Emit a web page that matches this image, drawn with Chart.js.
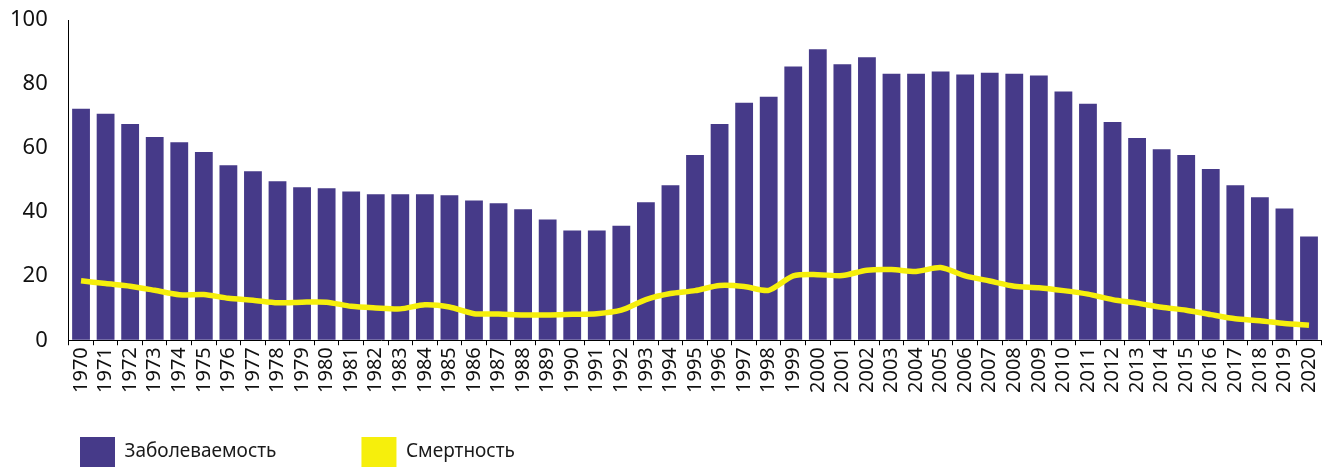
<!DOCTYPE html>
<html>
<head>
<meta charset="utf-8">
<script src="https://cdn.jsdelivr.net/npm/chart.js@4/dist/chart.umd.min.js"></script>
<style>
    html, body { margin: 0; padding: 0; background: #fff; overflow: hidden; }
    #wrap { width: 1335px; height: 467px; }
</style>
</head>
<body>
<div id="wrap">
    <canvas id="myChart" width="1335" height="467"></canvas>
</div>
<script>
const years = ["1970","1971","1972","1973","1974","1975","1976","1977","1978","1979",
    "1980","1981","1982","1983","1984","1985","1986","1987","1988","1989",
    "1990","1991","1992","1993","1994","1995","1996","1997","1998","1999",
    "2000","2001","2002","2003","2004","2005","2006","2007","2008","2009",
    "2010","2011","2012","2013","2014","2015","2016","2017","2018","2019","2020"];

const incidence = [72.3,70.8,67.6,63.5,61.9,58.8,54.7,52.8,49.7,47.8,
    47.5,46.5,45.6,45.6,45.6,45.3,43.7,42.8,40.9,37.7,
    34.3,34.3,35.8,43.1,48.4,57.9,67.6,74.2,76.1,85.5,
    90.9,86.2,88.4,83.3,83.3,84.0,83.0,83.6,83.3,82.7,
    77.7,73.9,68.2,63.2,59.7,57.9,53.5,48.4,44.7,41.2,32.4];

const mortality = [18.6,17.7,16.9,15.6,14.2,14.3,13.1,12.5,11.7,11.9,
    11.9,10.6,10.1,9.8,11.1,10.4,8.3,8.2,7.9,7.9,
    8.1,8.3,9.4,12.7,14.6,15.5,17.1,16.8,15.6,20.1,
    20.5,20.2,21.9,22.1,21.5,22.7,20.1,18.5,16.9,16.4,
    15.5,14.4,12.7,11.6,10.3,9.4,8.0,6.7,6.1,5.2,4.7];

const yTicks = [0, 20, 40, 60, 80, 100];

const seriesNames = ["Заболеваемость", "Смертность"];

const FONT = "'Noto Sans', sans-serif";
const LEGEND_PAD = 85;

// legend sits in its own spot under the axis labels
const legendSpot = {
    id: "legendSpot",
    beforeInit(chart) {
        const fit = chart.legend.fit;
        chart.legend.fit = function () {
            fit.call(this);
            this.height = 72;
        };
    },
    afterLayout(chart) {
        const lg = chart.legend;
        lg.left = 80 - LEGEND_PAD;
        lg.top = 437 - LEGEND_PAD;
    }
};

const ctx = document.getElementById("myChart").getContext("2d");

const data = {
    labels: years,
    datasets: [
        {
            type: "bar",
            label: seriesNames[0],
            data: incidence,
            backgroundColor: "#463A89",
            borderWidth: 0,
            barPercentage: 0.725,
            categoryPercentage: 1,
            order: 2
        },
        {
            type: "line",
            label: seriesNames[1],
            data: mortality,
            borderColor: "#F6EF0C",
            backgroundColor: "#F6EF0C",
            borderWidth: 5.5,
            pointRadius: 0,
            tension: 0.25,
            borderJoinStyle: "round",
            order: 1
        }
    ]
};

const config = {
    type: "bar",
    data: data,
    plugins: [legendSpot],
    options: {
        responsive: false,
        animation: false,
        layout: {
            padding: { top: 0, left: 3, right: 0, bottom: 0 }
        },
        plugins: {
            tooltip: { enabled: false },
            legend: {
                display: true,
                position: "bottom",
                align: "start",
                labels: {
                    boxWidth: 35,
                    boxHeight: 30,
                    padding: LEGEND_PAD,
                    color: "#1a1a1a",
                    font: { family: FONT, size: 19 },
                    sort: (a, b) => a.datasetIndex - b.datasetIndex,
                    generateLabels(chart) {
                        return Chart.defaults.plugins.legend.labels.generateLabels(chart)
                            .map(l => ({ ...l, lineWidth: 0 }));
                    }
                }
            }
        },
        scales: {
            x: {
                offset: true,
                border: { display: true, color: "#000", width: 1 },
                grid: {
                    display: true,
                    drawOnChartArea: false,
                    drawTicks: true,
                    tickLength: 5,
                    color: "#000",
                    offset: true
                },
                ticks: {
                    autoSkip: false,
                    minRotation: 90,
                    maxRotation: 90,
                    padding: 2,
                    color: "#111",
                    font: { family: FONT, size: 20 }
                }
            },
            y: {
                min: 0,
                max: 100,
                afterBuildTicks(axis) {
                    axis.ticks = yTicks.map(v => ({ value: v }));
                },
                border: { display: true, color: "#000", width: 1 },
                // invisible tick marks keep the labels away from the axis line
                grid: {
                    display: true,
                    drawOnChartArea: false,
                    drawTicks: true,
                    tickLength: 14,
                    color: "rgba(0,0,0,0)"
                },
                ticks: {
                    padding: 7,
                    color: "#111",
                    font: { family: FONT, size: 22 }
                }
            }
        }
    }
};

const myChart = new Chart(ctx, config);
</script>
</body>
</html>
